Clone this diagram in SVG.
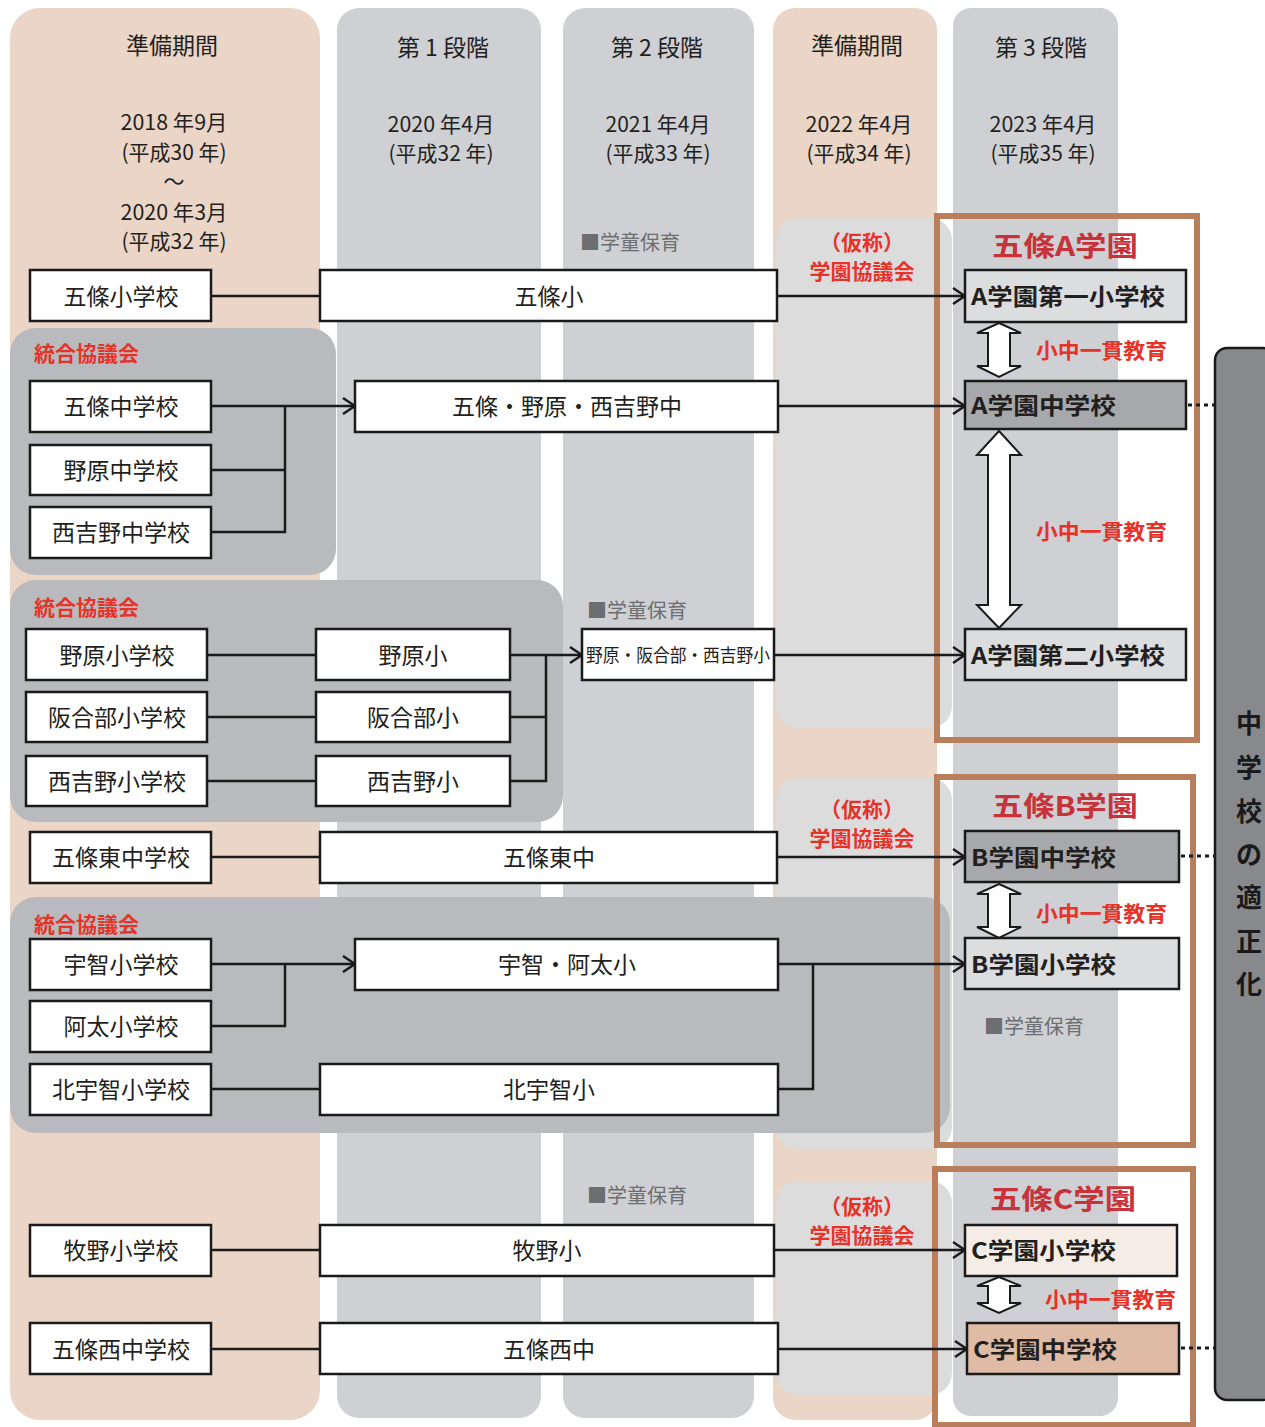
<svg xmlns="http://www.w3.org/2000/svg" width="1265" height="1427" viewBox="0 0 1265 1427">
<defs>
<style>
text{font-family:"Noto Sans CJK JP","Noto Sans",sans-serif;dominant-baseline:central;text-anchor:middle;fill:#231f20}
.hd{font-size:23px}
.dt{font-size:21px}
.nd{fill:#fff;stroke:#1a1a1a;stroke-width:2.5}
.nt{font-size:23px}
.rt{font-size:23px;font-weight:bold;text-anchor:start}
.red{fill:#e5332a;font-weight:bold;font-size:21px}
.redl{fill:#e5332a;font-weight:bold;font-size:21px;text-anchor:start}
.gk{fill:#6d6e71;font-size:20px;text-anchor:start}
.ttl{fill:#c8323a;font-weight:bold;font-size:27px}
.frame{fill:none;stroke:#b97e5c;stroke-width:6}
.cn{fill:none;stroke:#1a1a1a;stroke-width:2.5}
.dot{fill:none;stroke:#1a1a1a;stroke-width:3;stroke-dasharray:4 4}
.dbl{fill:#fff;stroke:#1a1a1a;stroke-width:2}
.bar{font-size:26px;font-weight:bold;fill:#1a1a1a}
</style>
<marker id="arr" markerUnits="userSpaceOnUse" markerWidth="14" markerHeight="20" viewBox="0 0 14 20" refX="13" refY="10" orient="auto">
<path d="M1,2 L13,10 L1,18" fill="none" stroke="#1a1a1a" stroke-width="2.5"/>
</marker>
</defs>
<rect width="1265" height="1427" fill="#fff"/>

<g id="columns">
<rect x="10" y="8" width="310" height="1412" rx="30" fill="#ead5c7"/>
<rect x="337" y="8" width="204" height="1410" rx="22" fill="#cfd0d4"/>
<rect x="563" y="8" width="191" height="1410" rx="22" fill="#cfd0d4"/>
<rect x="773" y="8" width="164" height="1412" rx="22" fill="#ead5c7"/>
<rect x="953" y="8" width="165" height="1408" rx="18" fill="#cfd0d4"/>
<rect x="776" y="218" width="176" height="510" rx="22" fill="#dcdcdd"/>
<rect x="776" y="778" width="176" height="371" rx="22" fill="#dcdcdd"/>
<rect x="776" y="1181" width="176" height="214" rx="22" fill="#dcdcdd"/>
</g>

<g id="headers">
<text class="hd" x="172" y="44">準備期間</text>
<text class="hd" x="443" y="46">第 1 段階</text>
<text class="hd" x="657" y="46">第 2 段階</text>
<text class="hd" x="857" y="44">準備期間</text>
<text class="hd" x="1041" y="46">第 3 段階</text>
<text class="dt" x="174" y="121" textLength="107" lengthAdjust="spacingAndGlyphs">2018 年9月</text>
<text class="dt" x="174" y="151" textLength="105" lengthAdjust="spacingAndGlyphs">(平成30 年)</text>
<text class="dt" x="174" y="180">～</text>
<text class="dt" x="174" y="211" textLength="107" lengthAdjust="spacingAndGlyphs">2020 年3月</text>
<text class="dt" x="174" y="240" textLength="105" lengthAdjust="spacingAndGlyphs">(平成32 年)</text>
<text class="dt" x="441" y="123" textLength="107" lengthAdjust="spacingAndGlyphs">2020 年4月</text>
<text class="dt" x="441" y="152" textLength="105" lengthAdjust="spacingAndGlyphs">(平成32 年)</text>
<text class="dt" x="658" y="123" textLength="105" lengthAdjust="spacingAndGlyphs">2021 年4月</text>
<text class="dt" x="658" y="152" textLength="105" lengthAdjust="spacingAndGlyphs">(平成33 年)</text>
<text class="dt" x="859" y="123" textLength="107" lengthAdjust="spacingAndGlyphs">2022 年4月</text>
<text class="dt" x="859" y="152" textLength="105" lengthAdjust="spacingAndGlyphs">(平成34 年)</text>
<text class="dt" x="1043" y="123" textLength="107" lengthAdjust="spacingAndGlyphs">2023 年4月</text>
<text class="dt" x="1043" y="152" textLength="105" lengthAdjust="spacingAndGlyphs">(平成35 年)</text>
</g>

<g id="groups">
<rect x="10" y="328" width="326" height="247" rx="26" fill="#b9babd"/>
<rect x="10" y="580" width="553" height="242" rx="26" fill="#b9babd"/>
<rect x="10" y="897" width="940" height="236" rx="26" fill="#b9babd"/>
<text class="redl" x="34" y="352">統合協議会</text>
<text class="redl" x="34" y="606">統合協議会</text>
<text class="redl" x="34" y="923">統合協議会</text>
</g>

<g id="frames">
<rect class="frame" x="937" y="216" width="260" height="524"/>
<rect class="frame" x="937" y="777" width="256" height="368"/>
<rect class="frame" x="935" y="1169" width="258" height="256"/>
<text class="ttl" x="1065" y="244" textLength="146" lengthAdjust="spacingAndGlyphs">五條A学園</text>
<text class="ttl" x="1065" y="804" textLength="146" lengthAdjust="spacingAndGlyphs">五條B学園</text>
<text class="ttl" x="1063" y="1197" textLength="146" lengthAdjust="spacingAndGlyphs">五條C学園</text>
</g>

<g id="labels">
<text class="red" x="862" y="241">（仮称）</text>
<text class="red" x="862" y="270">学園協議会</text>
<text class="red" x="862" y="808">（仮称）</text>
<text class="red" x="862" y="837">学園協議会</text>
<text class="red" x="862" y="1205">（仮称）</text>
<text class="red" x="862" y="1234">学園協議会</text>
<text class="gk" x="580" y="241">■学童保育</text>
<text class="gk" x="587" y="609">■学童保育</text>
<text class="gk" x="587" y="1194">■学童保育</text>
<text class="gk" x="984" y="1025">■学童保育</text>
<text class="redl" x="1036" y="349" textLength="131" lengthAdjust="spacingAndGlyphs">小中一貫教育</text>
<text class="redl" x="1036" y="530" textLength="131" lengthAdjust="spacingAndGlyphs">小中一貫教育</text>
<text class="redl" x="1036" y="912" textLength="131" lengthAdjust="spacingAndGlyphs">小中一貫教育</text>
<text class="redl" x="1045" y="1298" textLength="131" lengthAdjust="spacingAndGlyphs">小中一貫教育</text>
</g>

<g id="connectors">
<line class="cn" x1="211" y1="296" x2="320" y2="296"/>
<line class="cn" x1="777" y1="296" x2="965" y2="296" marker-end="url(#arr)"/>
<line class="cn" x1="211" y1="406" x2="355" y2="406" marker-end="url(#arr)"/>
<polyline class="cn" points="211,470 285,470"/>
<polyline class="cn" points="211,532 285,532 285,405"/>
<line class="cn" x1="778" y1="406" x2="965" y2="406" marker-end="url(#arr)"/>
<line class="cn" x1="207" y1="655" x2="316" y2="655"/>
<line class="cn" x1="207" y1="717" x2="316" y2="717"/>
<line class="cn" x1="207" y1="781" x2="316" y2="781"/>
<line class="cn" x1="510" y1="717" x2="546" y2="717"/>
<polyline class="cn" points="510,781 546,781 546,654"/>
<line class="cn" x1="510" y1="655" x2="582" y2="655" marker-end="url(#arr)"/>
<line class="cn" x1="774" y1="655" x2="965" y2="655" marker-end="url(#arr)"/>
<line class="cn" x1="211" y1="857" x2="320" y2="857"/>
<line class="cn" x1="777" y1="857" x2="965" y2="857" marker-end="url(#arr)"/>
<line class="cn" x1="211" y1="964" x2="355" y2="964" marker-end="url(#arr)"/>
<polyline class="cn" points="211,1026 285,1026 285,963"/>
<line class="cn" x1="211" y1="1089" x2="320" y2="1089"/>
<line class="cn" x1="778" y1="964" x2="965" y2="964" marker-end="url(#arr)"/>
<polyline class="cn" points="778,1089 813,1089 813,963"/>
<line class="cn" x1="211" y1="1250" x2="320" y2="1250"/>
<line class="cn" x1="774" y1="1250" x2="965" y2="1250" marker-end="url(#arr)"/>
<line class="cn" x1="211" y1="1349" x2="320" y2="1349"/>
<line class="cn" x1="778" y1="1349" x2="967" y2="1349" marker-end="url(#arr)"/>
<line class="dot" x1="1188" y1="405" x2="1215" y2="405"/>
<line class="dot" x1="1181" y1="856" x2="1215" y2="856"/>
<line class="dot" x1="1181" y1="1348" x2="1215" y2="1348"/>
<polygon class="dbl" points="999,323 1021,333 1010,333 1010,366 1021,366 999,377 977,366 988,366 988,333 977,333"/>
<polygon class="dbl" points="999,431 1021,455 1010,455 1010,605 1021,605 999,628 977,605 988,605 988,455 977,455"/>
<polygon class="dbl" points="999,884 1021,894 1010,894 1010,927 1021,927 999,938 977,927 988,927 988,894 977,894"/>
<polygon class="dbl" points="999,1277 1021,1286 1010,1286 1010,1303 1021,1303 999,1313 977,1303 988,1303 988,1286 977,1286"/>
</g>

<g id="n-gojo-sho"><rect class="nd" x="30" y="270" width="181" height="51"/><text class="nt" x="121" y="295">五條小学校</text></g>
<g id="n-gojo-sho-1"><rect class="nd" x="320" y="270" width="457" height="51"/><text class="nt" x="549" y="295">五條小</text></g>
<g id="n-gojo-chu"><rect class="nd" x="30" y="381" width="181" height="51"/><text class="nt" x="121" y="405">五條中学校</text></g>
<g id="n-nohara-chu"><rect class="nd" x="30" y="445" width="181" height="50"/><text class="nt" x="121" y="469">野原中学校</text></g>
<g id="n-nishiyoshino-chu"><rect class="nd" x="30" y="507" width="181" height="51"/><text class="nt" x="121" y="531">西吉野中学校</text></g>
<g id="n-merged-chu"><rect class="nd" x="355" y="381" width="423" height="51"/><text class="nt" x="567" y="405">五條・野原・西吉野中</text></g>
<g id="n-nohara-sho"><rect class="nd" x="26" y="629" width="181" height="51"/><text class="nt" x="117" y="654">野原小学校</text></g>
<g id="n-sakaibe-sho"><rect class="nd" x="26" y="692" width="181" height="50"/><text class="nt" x="117" y="716">阪合部小学校</text></g>
<g id="n-nishiyoshino-sho"><rect class="nd" x="26" y="756" width="181" height="50"/><text class="nt" x="117" y="780">西吉野小学校</text></g>
<g id="n-nohara-sho-1"><rect class="nd" x="316" y="629" width="194" height="51"/><text class="nt" x="413" y="654">野原小</text></g>
<g id="n-sakaibe-sho-1"><rect class="nd" x="316" y="692" width="194" height="50"/><text class="nt" x="413" y="716">阪合部小</text></g>
<g id="n-nishiyoshino-sho-1"><rect class="nd" x="316" y="756" width="194" height="50"/><text class="nt" x="413" y="780">西吉野小</text></g>
<g id="n-merged-sho"><rect class="nd" x="582" y="629" width="192" height="51"/><text x="678" y="654" font-size="18" textLength="184" lengthAdjust="spacingAndGlyphs">野原・阪合部・西吉野小</text></g>
<g id="n-gojohigashi-chu"><rect class="nd" x="30" y="832" width="181" height="51"/><text class="nt" x="121" y="856">五條東中学校</text></g>
<g id="n-gojohigashi-chu-1"><rect class="nd" x="320" y="832" width="457" height="51"/><text class="nt" x="549" y="856">五條東中</text></g>
<g id="n-uchi-sho"><rect class="nd" x="30" y="939" width="181" height="51"/><text class="nt" x="121" y="963">宇智小学校</text></g>
<g id="n-ata-sho"><rect class="nd" x="30" y="1001" width="181" height="51"/><text class="nt" x="121" y="1025">阿太小学校</text></g>
<g id="n-kitauchi-sho"><rect class="nd" x="30" y="1064" width="181" height="51"/><text class="nt" x="121" y="1088">北宇智小学校</text></g>
<g id="n-uchiata-sho"><rect class="nd" x="355" y="939" width="423" height="51"/><text class="nt" x="567" y="963">宇智・阿太小</text></g>
<g id="n-kitauchi-sho-1"><rect class="nd" x="320" y="1064" width="458" height="51"/><text class="nt" x="549" y="1088">北宇智小</text></g>
<g id="n-makino-sho"><rect class="nd" x="30" y="1225" width="181" height="51"/><text class="nt" x="121" y="1249">牧野小学校</text></g>
<g id="n-makino-sho-1"><rect class="nd" x="320" y="1225" width="454" height="51"/><text class="nt" x="547" y="1249">牧野小</text></g>
<g id="n-gojonishi-chu"><rect class="nd" x="30" y="1323" width="181" height="51"/><text class="nt" x="121" y="1348">五條西中学校</text></g>
<g id="n-gojonishi-chu-1"><rect class="nd" x="320" y="1323" width="458" height="51"/><text class="nt" x="549" y="1348">五條西中</text></g>

<g id="n-a-sho1"><rect class="nd" x="965" y="270" width="221" height="52" style="fill:#dcdddf"/><text class="rt" x="971" y="295" textLength="194" lengthAdjust="spacingAndGlyphs">A学園第一小学校</text></g>
<g id="n-a-chu"><rect class="nd" x="965" y="381" width="221" height="48" style="fill:#a7a8ab"/><text class="rt" x="971" y="404" textLength="145" lengthAdjust="spacingAndGlyphs">A学園中学校</text></g>
<g id="n-a-sho2"><rect class="nd" x="965" y="629" width="221" height="51" style="fill:#dcdddf"/><text class="rt" x="971" y="654" textLength="194" lengthAdjust="spacingAndGlyphs">A学園第二小学校</text></g>
<g id="n-b-chu"><rect class="nd" x="965" y="831" width="214" height="51" style="fill:#a7a8ab"/><text class="rt" x="971" y="856" textLength="145" lengthAdjust="spacingAndGlyphs">B学園中学校</text></g>
<g id="n-b-sho"><rect class="nd" x="965" y="938" width="214" height="51" style="fill:#dcdddf"/><text class="rt" x="971" y="963" textLength="145" lengthAdjust="spacingAndGlyphs">B学園小学校</text></g>
<g id="n-c-sho"><rect class="nd" x="965" y="1225" width="212" height="51" style="fill:#f6ece6"/><text class="rt" x="971" y="1249" textLength="145" lengthAdjust="spacingAndGlyphs">C学園小学校</text></g>
<g id="n-c-chu"><rect class="nd" x="967" y="1323" width="212" height="51" style="fill:#dfbba5"/><text class="rt" x="973" y="1348" textLength="144" lengthAdjust="spacingAndGlyphs">C学園中学校</text></g>

<g id="n-bar">
<rect x="1215" y="348" width="60" height="1052" rx="12" fill="#88898c" stroke="#1a1a1a" stroke-width="2.5"/>
<text class="bar" x="1249" y="721">中</text>
<text class="bar" x="1249" y="765">学</text>
<text class="bar" x="1249" y="809">校</text>
<text class="bar" x="1249" y="852">の</text>
<text class="bar" x="1249" y="895">適</text>
<text class="bar" x="1249" y="939">正</text>
<text class="bar" x="1249" y="982">化</text>
</g>
</svg>
